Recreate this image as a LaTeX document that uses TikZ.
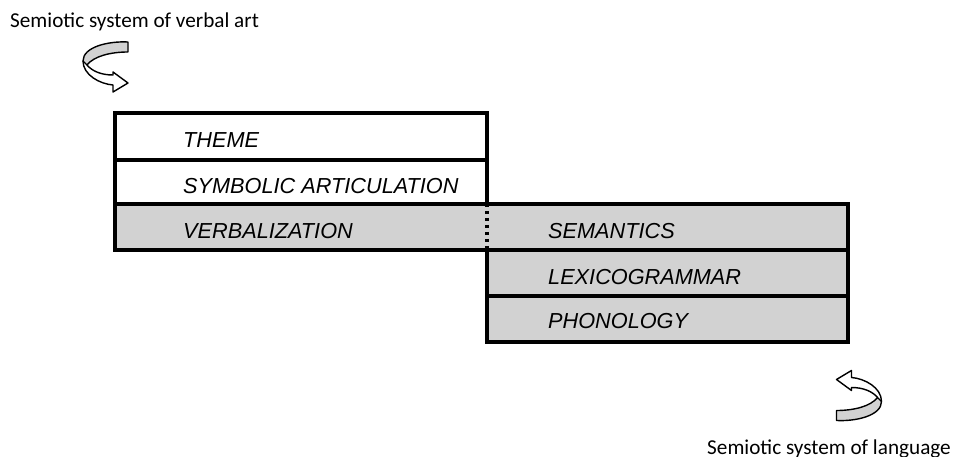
\documentclass[tikz,border=0pt]{standalone}
\usepackage{fontspec}
\newfontfamily\arialf{Liberation Sans}
\newfontfamily\calibrif{Carlito}
\definecolor{boxgray}{RGB}{210,210,210}
\tikzset{
  cell/.style={rectangle, anchor=north west, inner sep=0pt, outer sep=0pt},
  whitecell/.style={cell, fill=white, draw=black, line width=3.2pt},
  graycell/.style={cell, fill=boxgray, draw=black, line width=3.2pt},
  grayfill/.style={cell, fill=boxgray, draw=none},
  lbl/.style={anchor=base west, inner sep=0pt, font=\arialf\itshape\fontsize{21.7}{26}\selectfont},
  caption/.style={inner sep=0pt, font=\calibrif\fontsize{21.2}{25}\selectfont},
  edge/.style={line width=3.2pt, line cap=rect},
  ribbon/.pic={
    \fill[white] (22,-25) .. controls (2,-26) and (-23,-20) .. (-23,-6)
      .. controls (-23,8) and (-6,17) .. (7,18) -- (7,25) -- (22,16) -- (7,5) -- (7,8)
      .. controls (-5,8) and (-14,4) .. (-19,-2)
      .. controls (-12,-11) and (5,-15) .. (22,-15) -- cycle;
    \filldraw[fill=boxgray, line width=1.4pt, line join=round]
      (22,-25) .. controls (2,-26) and (-23,-20) .. (-23,-6) -- (-19,-2)
      .. controls (-12,-11) and (5,-15) .. (22,-15) -- cycle;
    \draw[line width=1.4pt, line join=round] (-23,-6)
      .. controls (-23,8) and (-6,17) .. (7,18) -- (7,25) -- (22,16) -- (7,5) -- (7,8)
      .. controls (-5,8) and (-14,4) .. (-19,-2);
  }
}
\begin{document}
\begin{tikzpicture}[x=1pt, y=-1pt]
\useasboundingbox (0,0) rectangle (954,457);
% cells
\node[whitecell, minimum width=372pt, minimum height=47pt] (theme) at (115,113) {};
\node[whitecell, minimum width=372pt, minimum height=44pt] (symb) at (115,160) {};
\node[grayfill, minimum width=372pt, minimum height=46pt] (verb) at (115,204) {};
\node[grayfill, minimum width=361pt, minimum height=46pt] (sem) at (487,204) {};
\node[graycell, minimum width=361pt, minimum height=46pt] (lex) at (487,250) {};
\node[graycell, minimum width=361pt, minimum height=46pt] (phon) at (487,296) {};
% borders of the shared row
\draw[edge] (verb.north east) -- (verb.north west) -- (verb.south west) -- (verb.south east);
\draw[edge] (sem.north west) -- (sem.north east) -- (sem.south east) -- (sem.south west);
\draw[line width=3.2pt, dash pattern=on 3pt off 4pt] (verb.north east) -- (verb.south east);
% labels
\node[lbl] (tTheme) at (183,148) {THEME};
\node[lbl] (tSymb) at (183,194) {SYMBOLIC ARTICULATION};
\node[lbl] (tVerb) at (183,239) {VERBALIZATION};
\node[lbl] (tSem) at (548,239) {SEMANTICS};
\node[lbl] (tLex) at (548,285) {LEXICOGRAMMAR};
\node[lbl] (tPhon) at (548,329) {PHONOLOGY};
% captions
\node[caption, anchor=base west] (capArt) at (10,28) {Semiotic system of verbal art};
\node[caption, anchor=base east] (capLang) at (951,454) {Semiotic system of language};
% curled arrows
\pic (arrArt) at (106,67) {ribbon};
\pic[rotate=180] (arrLang) at (858.5,395.5) {ribbon};
\end{tikzpicture}
\end{document}
